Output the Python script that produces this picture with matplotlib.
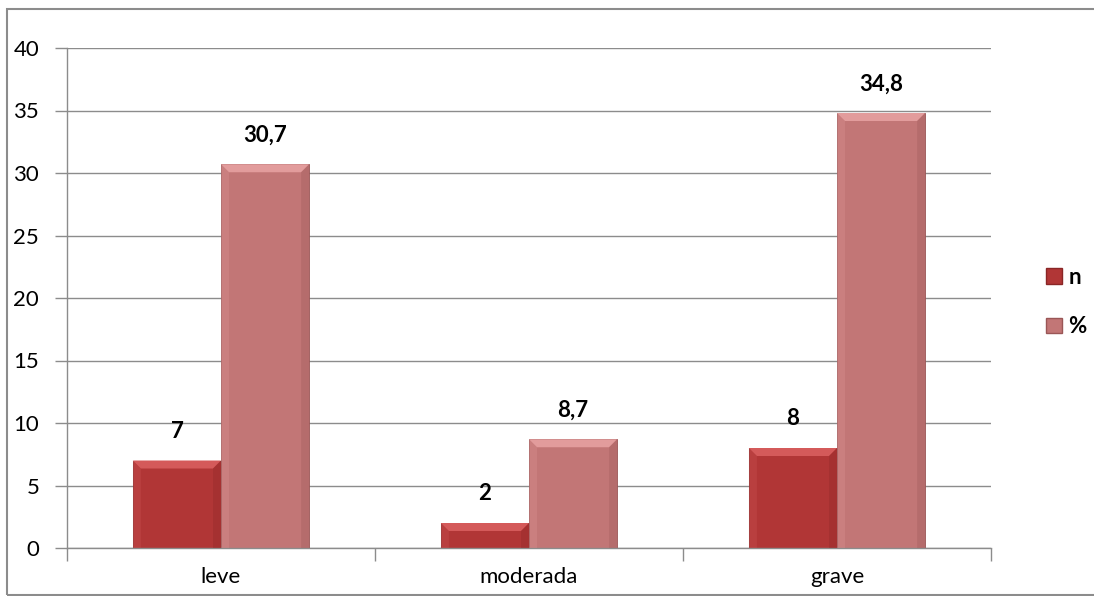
import numpy as np
import matplotlib.pyplot as plt
from matplotlib.patches import Rectangle, Polygon

categories = ["leve", "moderada", "grave"]
n_values = [7, 2, 8]
pct_values = [30.7, 8.7, 34.8]
pct_labels = ["30,7", "8,7", "34,8"]
n_labels = ["7", "2", "8"]
series_names = ["n", "%"]

plt.rcParams["font.family"] = ["Lato", "DejaVu Sans"]

fig = plt.figure(figsize=(10.94, 5.96), dpi=100)
ax = fig.add_axes([67 / 1094, 1 - 548 / 596, (991 - 67) / 1094, 500 / 596])

# outer chart border
fig.patches.append(Rectangle((7 / 1094, 1 / 596), 1.2, 586 / 596, transform=fig.transFigure,
                             fill=False, edgecolor="#8c8c8c", linewidth=1.5))

x = np.arange(len(categories))
w = 0.286
colors = {"n": ("#b13636", "#d45a5a", "#8a2626"), "%": ("#c27676", "#e29c9c", "#9a5656")}

def bevel(bars, face, light, dark):
    for b in bars:
        b.set_facecolor(face)
        b.set_edgecolor(dark)
        b.set_linewidth(0.6)
        x0, y0 = b.get_x(), b.get_y()
        x1, y1 = x0 + b.get_width(), y0 + b.get_height()
        # bevel depth of ~8 px in data units
        dx = 8 / 308
        dy = min(8 / 12.5, b.get_height() / 2)
        ax.add_patch(Polygon([(x0, y1), (x1, y1), (x1 - dx, y1 - dy), (x0 + dx, y1 - dy)],
                             closed=True, facecolor=light, edgecolor="none", zorder=3))
        ax.add_patch(Polygon([(x1, y0), (x1, y1), (x1 - dx, y1 - dy), (x1 - dx, y0)],
                             closed=True, facecolor=dark, alpha=0.3, edgecolor="none", zorder=3))
        ax.add_patch(Polygon([(x0, y0), (x0, y1), (x0 + dx, y1 - dy), (x0 + dx, y0)],
                             closed=True, facecolor=light, alpha=0.25, edgecolor="none", zorder=3))

b1 = ax.bar(x - w / 2, n_values, w, zorder=2)
b2 = ax.bar(x + w / 2, pct_values, w, zorder=2)
bevel(b1, *colors["n"])
bevel(b2, *colors["%"])

for xi, v, lab in zip(x - w / 2, n_values, n_labels):
    ax.text(xi, v + 1.5, lab, ha="center", va="bottom", fontsize=16, fontweight="bold")
for xi, v, lab in zip(x + w / 2, pct_values, pct_labels):
    ax.text(xi, v + 1.5, lab, ha="center", va="bottom", fontsize=16, fontweight="bold")

ax.set_xlim(-0.5, 2.5)
ax.set_ylim(0, 40)
ax.set_yticks(range(0, 41, 5))
ax.yaxis.grid(True, color="#8c8c8c", linewidth=1)
ax.set_axisbelow(True)
ax.set_xticks([-0.5, 0.5, 1.5, 2.5])
ax.set_xticklabels([])
ax.set_xticks(x, minor=True)
ax.set_xticklabels(categories, minor=True)
ax.tick_params(axis="x", which="minor", length=0, pad=14, labelsize=16)
ax.tick_params(axis="x", which="major", length=9, color="#8c8c8c", width=1)
ax.tick_params(axis="y", length=9, color="#8c8c8c", width=1, labelsize=16, pad=11)
for s in ["top", "right"]:
    ax.spines[s].set_visible(False)
for s in ["left", "bottom"]:
    ax.spines[s].set_color("#8c8c8c")
    ax.spines[s].set_linewidth(1)

handles = [Rectangle((0, 0), 1, 1, facecolor=colors["n"][0], edgecolor=colors["n"][2]),
           Rectangle((0, 0), 1, 1, facecolor=colors["%"][0], edgecolor=colors["%"][2])]
fig.legend(handles, series_names, loc="center left", bbox_to_anchor=(1026 / 1094, 1 - 302 / 596),
           frameon=False, handlelength=0.7, handleheight=0.7, handletextpad=0.3,
           labelspacing=1.3, prop={"size": 16, "weight": "bold"})

fig.savefig("out.png", dpi=100)
